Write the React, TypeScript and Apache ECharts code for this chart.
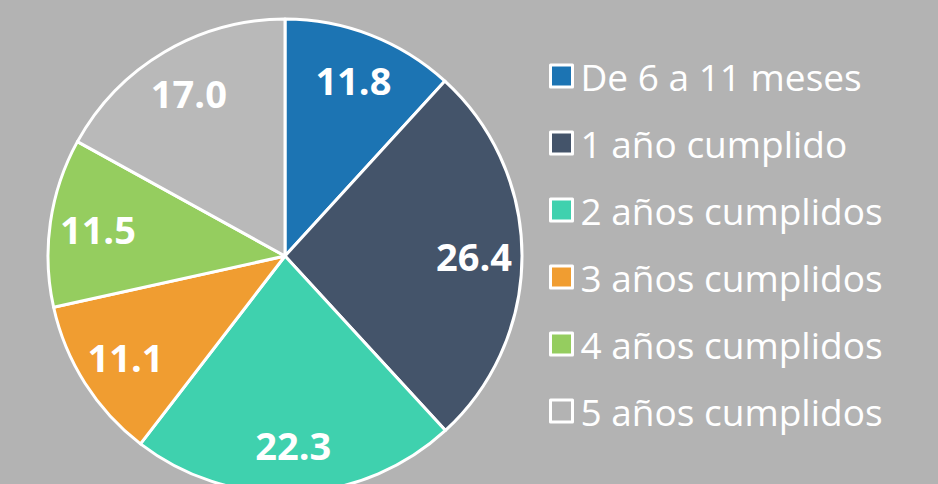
import React, { useEffect, useRef } from "react";
import * as echarts from "echarts";

const categories = [
  "De 6 a 11 meses",
  "1 año cumplido",
  "2 años cumplidos",
  "3 años cumplidos",
  "4 años cumplidos",
  "5 años cumplidos",
];
const values = [11.8, 26.4, 22.3, 11.1, 11.5, 17.0];
const colors = ["#1c74b3", "#44546a", "#3fd1ae", "#f09d31", "#95cd5f", "#b9b9b9"];
const legendColors = ["#1c74b3", "#44546a", "#3fd1ae", "#f09d31", "#95cd5f", "#b3b3b3"];

export default function App() {
  const ref = useRef<HTMLDivElement>(null);
  useEffect(() => {
    document.body.style.margin = "0";
    const chart = echarts.init(ref.current!, null, { renderer: "svg" });
    const data = categories.map((name, i) => ({
      name,
      value: values[i],
      itemStyle: { color: colors[i] },
    }));
    chart.setOption({
      animation: false,
      backgroundColor: "#b3b3b3",
      legend: {
        orient: "vertical",
        left: 544,
        top: 51,
        itemWidth: 22,
        itemHeight: 22,
        itemGap: 27,
        icon: "rect",
        data: categories.map((name, i) => ({
          name,
          itemStyle: { color: legendColors[i], borderColor: "#ffffff", borderWidth: 3 },
        })),
        textStyle: {
          color: "#ffffff",
          fontFamily: "Open Sans",
          fontSize: 37,
          lineHeight: 40,
          padding: [0, 0, 0, 3],
        },
      },
      series: [
        {
          type: "pie",
          center: [285, 256],
          radius: [0, 237],
          startAngle: 90,
          clockwise: true,
          silent: true,
          label: { show: false },
          labelLine: { show: false },
          itemStyle: { borderColor: "#ffffff", borderWidth: 3 },
          data,
        },
        {
          type: "pie",
          center: [285, 256],
          radius: [135, 237],
          startAngle: 90,
          clockwise: true,
          silent: true,
          legendHoverLink: false,
          itemStyle: { color: "rgba(0,0,0,0)", borderWidth: 0 },
          label: {
            show: true,
            position: "inside",
            color: "#ffffff",
            fontFamily: "Open Sans",
            fontWeight: "bold",
            fontSize: 38,
            formatter: (p: any) => Number(p.value).toFixed(1),
          },
          labelLine: { show: false },
          data: categories.map((name, i) => ({ name, value: values[i] })),
        },
      ],
    });
    return () => chart.dispose();
  }, []);
  return <div ref={ref} style={{ width: 938, height: 484 }} />;
}
